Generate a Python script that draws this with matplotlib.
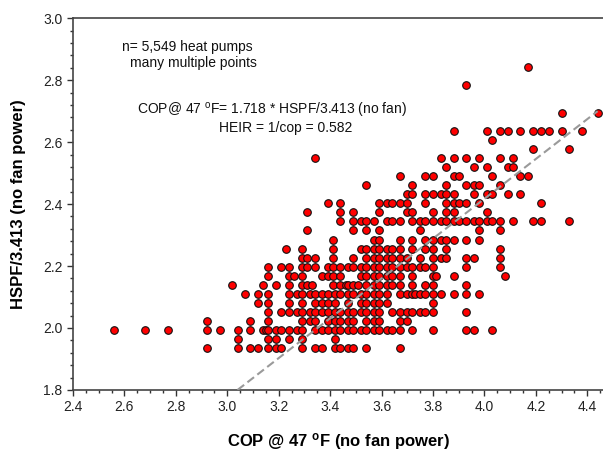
import matplotlib
matplotlib.use('Agg')

import matplotlib.pyplot as plt
from matplotlib.ticker import MultipleLocator

plt.rcParams['font.family'] = ['Liberation Sans', 'DejaVu Sans']
plt.rcParams['mathtext.fontset'] = 'custom'
plt.rcParams['mathtext.rm'] = 'Liberation Sans'
plt.rcParams['mathtext.bf'] = 'Liberation Sans:bold'

# HSPF rating levels (y = HSPF/3.413) and the COP values seen on each level
hspf_rows = [6.6, 6.7, 6.8, 6.9, 7.0, 7.1, 7.2, 7.3, 7.4, 7.5, 7.6, 7.7,
             7.8, 7.9, 8.0, 8.1, 8.2, 8.3, 8.4, 8.5, 8.6, 8.7, 8.8, 8.9,
             9.0, 9.2, 9.5, 9.7]

cop_66 = [2.92, 3.04, 3.09, 3.12, 3.16, 3.19, 3.21, 3.29, 3.34, 3.37, 3.42,
          3.44, 3.47, 3.49, 3.54, 3.67]
cop_67 = [3.04, 3.16, 3.19, 3.24, 3.29, 3.42]
cop_68 = [2.56, 2.68, 2.77, 2.92, 2.97, 3.04, 3.09, 3.14, 3.15, 3.16, 3.19,
          3.21, 3.24, 3.27, 3.29, 3.34, 3.37, 3.39, 3.42, 3.44, 3.47, 3.49,
          3.52, 3.54, 3.57, 3.59, 3.62, 3.64, 3.67, 3.72, 3.80, 3.93, 3.96,
          4.03]
cop_69 = [2.92, 3.09, 3.16, 3.29, 3.32, 3.34, 3.39, 3.42, 3.44, 3.47, 3.49,
          3.54, 3.57, 3.59, 3.67, 3.70]
cop_70 = [3.16, 3.21, 3.24, 3.27, 3.29, 3.32, 3.34, 3.37, 3.39, 3.42, 3.44,
          3.47, 3.49, 3.52, 3.54, 3.57, 3.59, 3.64, 3.67, 3.70, 3.72, 3.75,
          3.77, 3.80, 3.93]
cop_71 = [3.12, 3.16, 3.24, 3.29, 3.34, 3.37, 3.39, 3.42, 3.47, 3.52, 3.54,
          3.57, 3.59, 3.62, 3.80]
cop_72 = [3.07, 3.12, 3.16, 3.24, 3.27, 3.29, 3.32, 3.34, 3.37, 3.39, 3.42,
          3.44, 3.47, 3.49, 3.52, 3.54, 3.57, 3.59, 3.62, 3.67, 3.70, 3.72,
          3.73, 3.75, 3.77, 3.80, 3.83, 3.88, 3.93, 3.98]
cop_73 = [3.02, 3.14, 3.19, 3.24, 3.29, 3.31, 3.33, 3.41, 3.44, 3.46, 3.47,
          3.49, 3.51, 3.54, 3.57, 3.59, 3.62, 3.64, 3.67, 3.72, 3.77, 3.80,
          3.93]
cop_74 = [3.16, 3.24, 3.26, 3.29, 3.37, 3.39, 3.41, 3.44, 3.52, 3.54, 3.57,
          3.59, 3.62, 3.64, 3.67, 3.72, 3.80, 3.81, 3.88, 4.08]
cop_75 = [3.16, 3.21, 3.24, 3.29, 3.31, 3.34, 3.39, 3.41, 3.44, 3.47, 3.49,
          3.52, 3.54, 3.57, 3.59, 3.62, 3.64, 3.67, 3.70, 3.72, 3.75, 3.77,
          3.80, 3.93, 4.06]
cop_76 = [3.29, 3.31, 3.34, 3.41, 3.49, 3.54, 3.57, 3.59, 3.62, 3.64, 3.67,
          3.70, 3.75, 3.80, 3.83, 3.85, 3.93, 3.96, 4.06]
cop_77 = [3.23, 3.29, 3.41, 3.52, 3.54, 3.57, 3.59, 3.62, 3.64, 3.67, 3.72,
          3.77, 3.80, 3.85, 4.06]
cop_78 = [3.41, 3.57, 3.59, 3.67, 3.72, 3.77, 3.80, 3.83, 3.85, 3.88, 3.93,
          3.98]
cop_79 = [3.31, 3.49, 3.54, 3.59, 3.75, 3.98, 4.06]
cop_80 = [3.44, 3.49, 3.52, 3.54, 3.57, 3.62, 3.64, 3.67, 3.72, 3.75, 3.77,
          3.80, 3.83, 3.85, 3.88, 3.90, 3.93, 3.96, 3.98, 4.01, 4.03, 4.06,
          4.11, 4.19, 4.22, 4.33]
cop_81 = [3.31, 3.44, 3.49, 3.59, 3.70, 3.72, 3.80, 3.85, 3.88, 4.01]
cop_82 = [3.39, 3.44, 3.59, 3.62, 3.64, 3.67, 3.70, 3.77, 3.85, 3.88, 3.90,
          3.93, 3.98, 4.22]
cop_83 = [3.70, 3.72, 3.77, 3.80, 3.83, 3.85, 3.88, 3.96, 4.01, 4.03, 4.09,
          4.14]
cop_84 = [3.54, 3.72, 3.85, 3.93, 3.96, 3.98, 4.06]
cop_85 = [3.67, 3.77, 3.80, 3.88, 3.90, 4.03, 4.14, 4.17]
cop_86 = [3.85, 3.96, 4.01, 4.09, 4.11]
cop_87 = [3.34, 3.83, 3.88, 3.93, 3.98, 4.06, 4.11]
cop_88 = [4.19, 4.33]
cop_89 = [4.03]
cop_90 = [3.88, 4.01, 4.06, 4.09, 4.14, 4.19, 4.22, 4.25, 4.30, 4.38]
cop_92 = [4.30, 4.44]
cop_95 = [3.93]
cop_97 = [4.17]

cop_rows = [cop_66, cop_67, cop_68, cop_69, cop_70, cop_71, cop_72, cop_73,
            cop_74, cop_75, cop_76, cop_77, cop_78, cop_79, cop_80, cop_81,
            cop_82, cop_83, cop_84, cop_85, cop_86, cop_87, cop_88, cop_89,
            cop_90, cop_92, cop_95, cop_97]

# dashed trend line end points
line_cop = [3.04, 4.44]
line_y = [1.80, 2.70]

cop = []
y = []
for h, row in zip(hspf_rows, cop_rows):
    for c in row:
        cop.append(c)
        y.append(h / 3.413)

fig = plt.figure(figsize=(6.03, 4.55), dpi=100)
ax = fig.add_axes([0.121, 0.143, 0.879, 0.817])

ax.scatter(cop, y, s=30, c='#ff0000', edgecolors='#111111', linewidths=0.8,
           zorder=3)
ax.plot(line_cop, line_y, color='#9a9a9a', lw=1.5, dashes=(4, 2), zorder=4)

# text notes
ax.text(2.846, 2.907, 'n= 5,549 heat pumps', ha='center', va='center',
        fontsize=10, color='#111111')
ax.text(2.868, 2.856, 'many multiple points', ha='center', va='center',
        fontsize=10, color='#111111')
ax.text(3.174, 2.701, r'COP@ 47 $\mathrm{^{o}}$F= 1.718 * HSPF/3.413 (no fan)',
        ha='center', va='center', fontsize=10, color='#111111')
ax.text(3.229, 2.647, 'HEIR = 1/cop = 0.582', ha='center', va='center',
        fontsize=10, color='#111111')

# axis styling
ax.set_xlim(2.4, 4.461)
ax.set_ylim(1.8, 3.0)
ax.xaxis.set_major_locator(MultipleLocator(0.2))
ax.xaxis.set_minor_locator(MultipleLocator(0.05))
ax.yaxis.set_major_locator(MultipleLocator(0.2))
ax.yaxis.set_minor_locator(MultipleLocator(0.04))
ax.xaxis.set_major_formatter(matplotlib.ticker.FormatStrFormatter('%.1f'))
ax.yaxis.set_major_formatter(matplotlib.ticker.FormatStrFormatter('%.1f'))
ax.tick_params(which='major', length=4, width=1, color='#333333',
               labelsize=10, labelcolor='#222222')
ax.tick_params(which='minor', length=2.5, width=1, color='#333333')
ax.spines['right'].set_visible(False)
for s in ['left', 'bottom', 'top']:
    ax.spines[s].set_color('#444444')
    ax.spines[s].set_linewidth(1.2)

ax.set_xlabel(r'COP @ 47 $\mathbf{^{o}}$F (no fan power)', fontsize=12,
              fontweight='bold', labelpad=12)
ax.set_ylabel('HSPF/3.413 (no fan power)', fontsize=12, fontweight='bold',
              labelpad=12)

plt.savefig('out.png', dpi=100)
